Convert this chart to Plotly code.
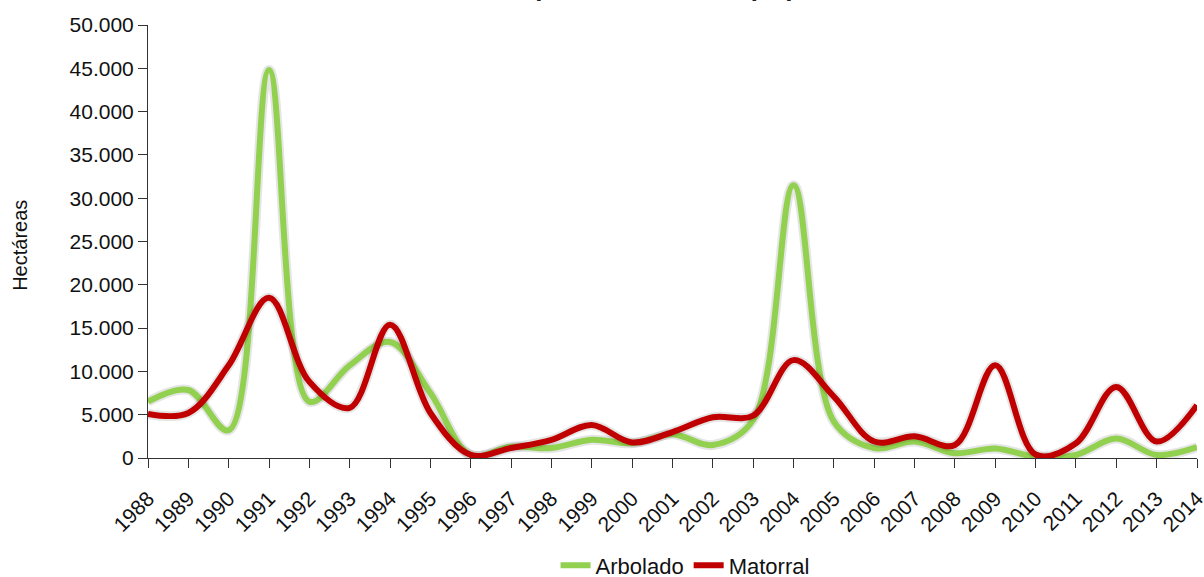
import plotly.graph_objects as go

years = list(range(1988, 2015))
arbolado = [6500, 7850, 3200, 44800, 6500, 10700, 13400, 7500, 350, 1300,
            1150, 2100, 1700, 2750, 1500, 4400, 31500, 4200, 1150, 1900,
            550, 1100, 150, 350, 2250, 350, 1250]
matorral = [5100, 5200, 10700, 18500, 8800, 5800, 15400, 5200, 350, 1150,
            2100, 3800, 1800, 3000, 4700, 4900, 11300, 7100, 1900, 2500,
            1500, 10700, 400, 1700, 8200, 1900, 6100]
y_ticks = list(range(0, 50001, 5000))
title_text = "Superficie afectada (ha), 1988-2014"

fig = go.Figure()
for name, vals, color in [("Arbolado", arbolado, "#92D050"), ("Matorral", matorral, "#C00000")]:
    fig.add_trace(go.Scatter(x=years, y=vals, mode="lines", showlegend=False, hoverinfo="skip",
                             line=dict(color="rgba(0,0,0,0.10)", width=10, shape="spline", smoothing=1.0)))
    fig.add_trace(go.Scatter(x=years, y=vals, mode="lines", name=name,
                             line=dict(color=color, width=6, shape="spline", smoothing=1.0)))

fig.update_layout(
    width=1204, height=577,
    margin=dict(l=148, r=7, t=25, b=119, autoexpand=False),
    paper_bgcolor="white", plot_bgcolor="white",
    font=dict(family="Liberation Sans, Arial, sans-serif", size=21, color="#111111"),
    separators=",.",
    showlegend=True,
    legend=dict(orientation="h", x=0.512, xanchor="center", xref="paper",
                y=0.02, yanchor="middle", yref="container",
                font=dict(size=22), itemwidth=30, tracegroupgap=0),
    xaxis=dict(range=[1988, 2014], tickmode="array", tickvals=years,
               ticktext=[str(y) for y in years], tickangle=-45, automargin=False,
               ticklabeloverflow="allow", ticklabelstandoff=10,
               showgrid=False, zeroline=False, showline=True, linecolor="#333333", linewidth=1,
               ticks="outside", ticklen=9, tickcolor="#333333", tickfont=dict(size=21)),
    yaxis=dict(range=[0, 50000], tickmode="array", tickvals=y_ticks, tickformat=",d",
               automargin=False,
               showgrid=False, zeroline=False, showline=True, linecolor="#333333", linewidth=1,
               ticks="outside", ticklen=9, tickcolor="#333333", tickfont=dict(size=21)),
    annotations=[
        dict(text="<b>" + title_text + "</b>", xref="paper", yref="paper",
             x=0.3356, y=1.048, xanchor="left", yanchor="bottom", showarrow=False,
             font=dict(size=26, color="#222222")),
        dict(text="Hectáreas", xref="paper", yref="paper", x=-0.122, y=0.49,
             xanchor="center", yanchor="middle", textangle=-90, showarrow=False,
             font=dict(size=20, color="#111111")),
    ],
)

fig.write_html("out.html", config={"displayModeBar": False},
               post_script="document.body.style.margin='0';")
